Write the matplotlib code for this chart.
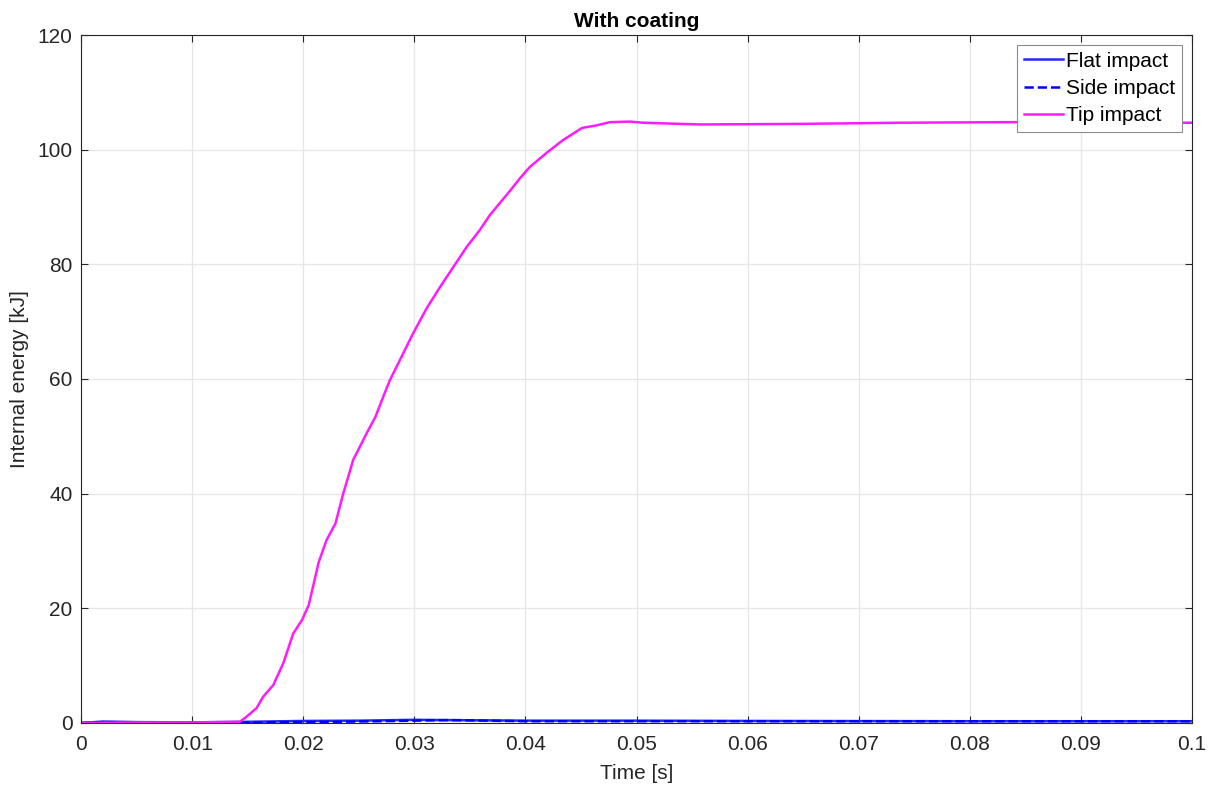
import matplotlib.pyplot as plt
import numpy as np

plt.rcParams["font.family"] = ["Liberation Sans", "DejaVu Sans"]

# Tip impact
t_tip = [0.0, 0.005, 0.01, 0.0143, 0.0149, 0.0158, 0.0164, 0.0173, 0.0182,
         0.0191, 0.0199, 0.0205, 0.0214, 0.0221, 0.0229, 0.0236, 0.0245,
         0.0257, 0.0265, 0.0272, 0.0278, 0.0287, 0.0299, 0.0311, 0.0323,
         0.0335, 0.0347, 0.0359, 0.0368, 0.0377, 0.0386, 0.0395, 0.0404,
         0.042, 0.0434, 0.0451, 0.0463, 0.0476, 0.0494, 0.0506, 0.0557,
         0.0647, 0.0737, 0.0827, 0.09, 0.1]
e_tip = [0.0, 0.1, 0.1, 0.2, 1.1, 2.6, 4.6, 6.6, 10.4,
         15.6, 18.0, 20.6, 28.1, 31.9, 34.8, 40.0, 45.9,
         50.5, 53.4, 56.9, 59.8, 63.3, 68.0, 72.3, 76.0,
         79.5, 83.0, 86.0, 88.6, 90.7, 92.8, 95.0, 97.0,
         99.6, 101.7, 103.8, 104.2, 104.8, 104.9, 104.7, 104.4,
         104.5, 104.7, 104.8, 104.8, 104.7]

# Flat and side impact stay close to zero
t_low = [0.0, 0.002, 0.005, 0.01, 0.015, 0.02, 0.025, 0.03, 0.033,
         0.04, 0.05, 0.06, 0.08, 0.1]
e_flat = [0.0, 0.25, 0.15, 0.1, 0.2, 0.35, 0.4, 0.55, 0.5,
          0.4, 0.4, 0.35, 0.3, 0.3]
e_side = [0.0, 0.1, 0.05, 0.1, 0.05, 0.15, 0.25, 0.4, 0.5,
          0.3, 0.3, 0.3, 0.3, 0.3]

fig = plt.figure(figsize=(12.15, 7.89), dpi=100)
ax = fig.add_axes([0.0667, 0.0837, 0.9144, 0.8719])

ax.plot(t_low, e_flat, color=(0.15, 0.15, 1.0), lw=1.8, label="Flat impact")
ax.plot(t_low, e_side, color=(0.0, 0.0, 1.0), lw=1.8, ls="--", label="Side impact")
ax.plot(t_tip, e_tip, color=(1.0, 0.1, 1.0), lw=1.8, label="Tip impact")

ax.set_xlim(0, 0.1)
ax.set_ylim(0, 120)
ax.set_xticks(np.arange(0, 0.1001, 0.01))
ax.set_xticklabels(["0", "0.01", "0.02", "0.03", "0.04", "0.05", "0.06",
                    "0.07", "0.08", "0.09", "0.1"])
ax.set_yticks(np.arange(0, 121, 20))
ax.grid(True, color="#e6e6e6", lw=0.9)
ax.set_axisbelow(True)
ax.tick_params(direction="in", length=5, labelsize=15, colors="#262626",
               top=True, right=True)
ax.tick_params(axis="x", pad=9)
ax.tick_params(axis="y", pad=6)
for s in ax.spines.values():
    s.set_color("#262626")
    s.set_linewidth(0.8)

ax.set_xlabel("Time [s]", fontsize=15, color="#262626", labelpad=7)
ax.set_ylabel("Internal energy [kJ]", fontsize=15, color="#262626", labelpad=6)
ax.set_title("With coating", fontsize=15, fontweight="bold", pad=6)

leg = ax.legend(loc="upper right", fontsize=15, fancybox=False,
                framealpha=1, edgecolor="#8c8c8c", handlelength=1.9,
                handletextpad=0.15, borderpad=0.3, labelspacing=0.4,
                borderaxespad=0.5)
leg.get_frame().set_linewidth(0.8)

fig.savefig("out.png", dpi=100)
